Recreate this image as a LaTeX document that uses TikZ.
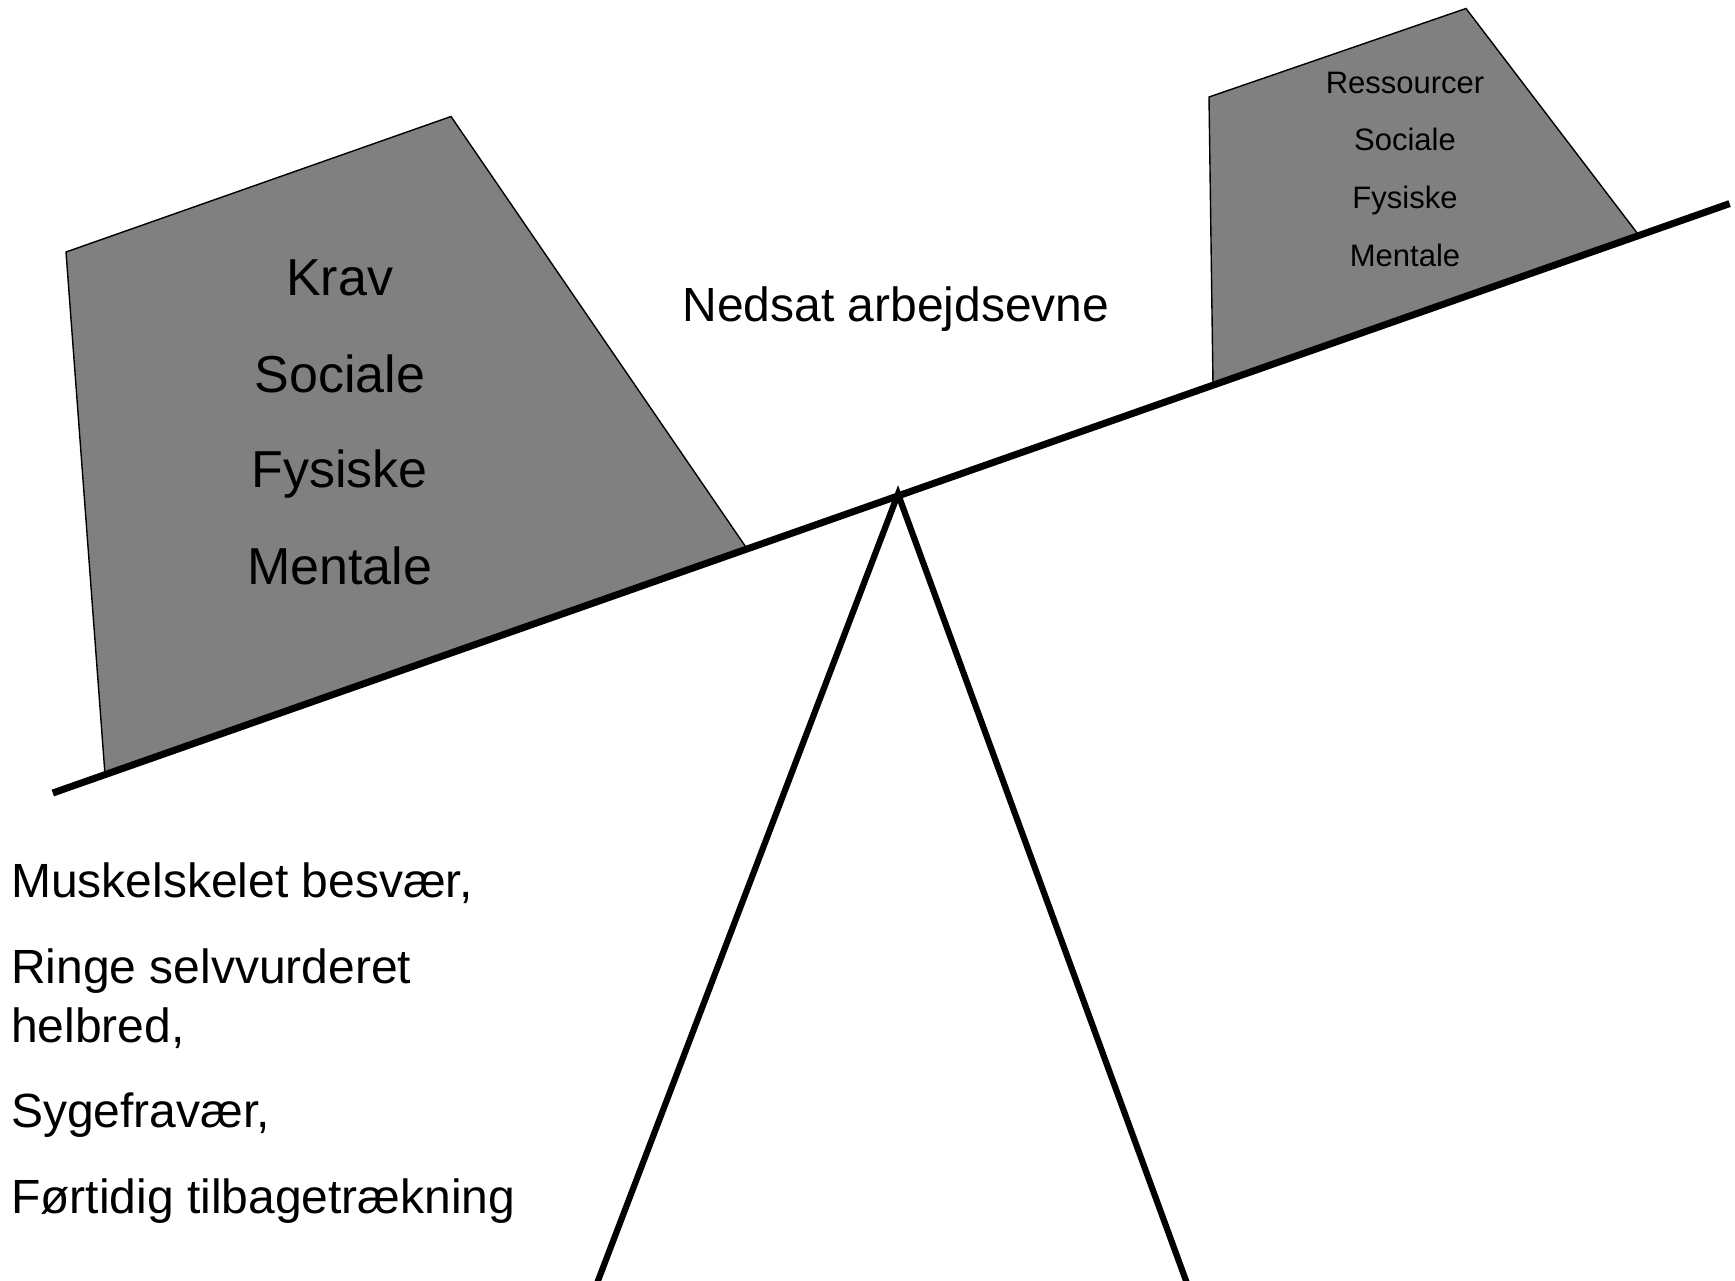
\documentclass[tikz,border=0pt]{standalone}
\usepackage{fontspec}
\setmainfont{Liberation Sans}
\begin{document}
\begin{tikzpicture}[x=1pt,y=-1pt,
  weight/.style={draw=black,line width=1.4pt,fill=gray50},
  bar/.style={draw=black,line width=7pt},
  leg/.style={draw=black,line width=6.2pt},
  bigtxt/.style={font=\fontsize{52}{60}\selectfont,anchor=base,inner sep=0pt},
  smalltxt/.style={font=\fontsize{31}{36}\selectfont,anchor=base,inner sep=0pt},
  midtxt/.style={font=\fontsize{48}{58.6}\selectfont,anchor=base west,inner sep=0pt,align=left}]
\definecolor{gray50}{HTML}{808080}
\useasboundingbox (0,0) rectangle (1735,1280);
\fill[white] (0,0) rectangle (1735,1280);
% weights
\draw[weight] (66,252) -- (451,116.5) -- (746.5,548) -- (105,774.5) -- cycle;
\draw[weight] (1209,97) -- (1466,8.5) -- (1639,235.5) -- (1213,385) -- cycle;
% seesaw
\coordinate (bl) at (52.8,793);
\coordinate (br) at (1729.6,203.6);
\coordinate (apex) at (898,494);
\coordinate (fl) at (597.5,1282);
\coordinate (fr) at (1186.5,1282);
\draw[leg] (fl) -- (apex) -- (fr);
\draw[bar] (bl) -- (br);
% texts left weight
\node[bigtxt] (k1) at (339.7,295.3) {Krav};
\node[bigtxt] (k2) at (339.7,392.7) {Sociale};
\node[bigtxt] (k3) at (339.7,487.7) {Fysiske};
\node[bigtxt] (k4) at (339.7,584) {Mentale};
% texts right weight
\node[smalltxt] (r1) at (1405,93) {Ressourcer};
\node[smalltxt] (r2) at (1405,150.4) {Sociale};
\node[smalltxt] (r3) at (1405,208) {Fysiske};
\node[smalltxt] (r4) at (1405,266.6) {Mentale};
% middle
\node[font=\fontsize{48}{58}\selectfont,anchor=base,inner sep=0pt] (ned) at (896,321) {Nedsat arbejdsevne};
% lower left list
\node[midtxt] (o1) at (11,897) {Muskelskelet besvær,};
\node[midtxt,anchor=north west] (o2) at (11,949) {Ringe selvvurderet\\helbred,};
\node[midtxt] (o3) at (11,1127) {Sygefravær,};
\node[midtxt] (o4) at (11,1213) {Førtidig tilbagetrækning};
\end{tikzpicture}
\end{document}
